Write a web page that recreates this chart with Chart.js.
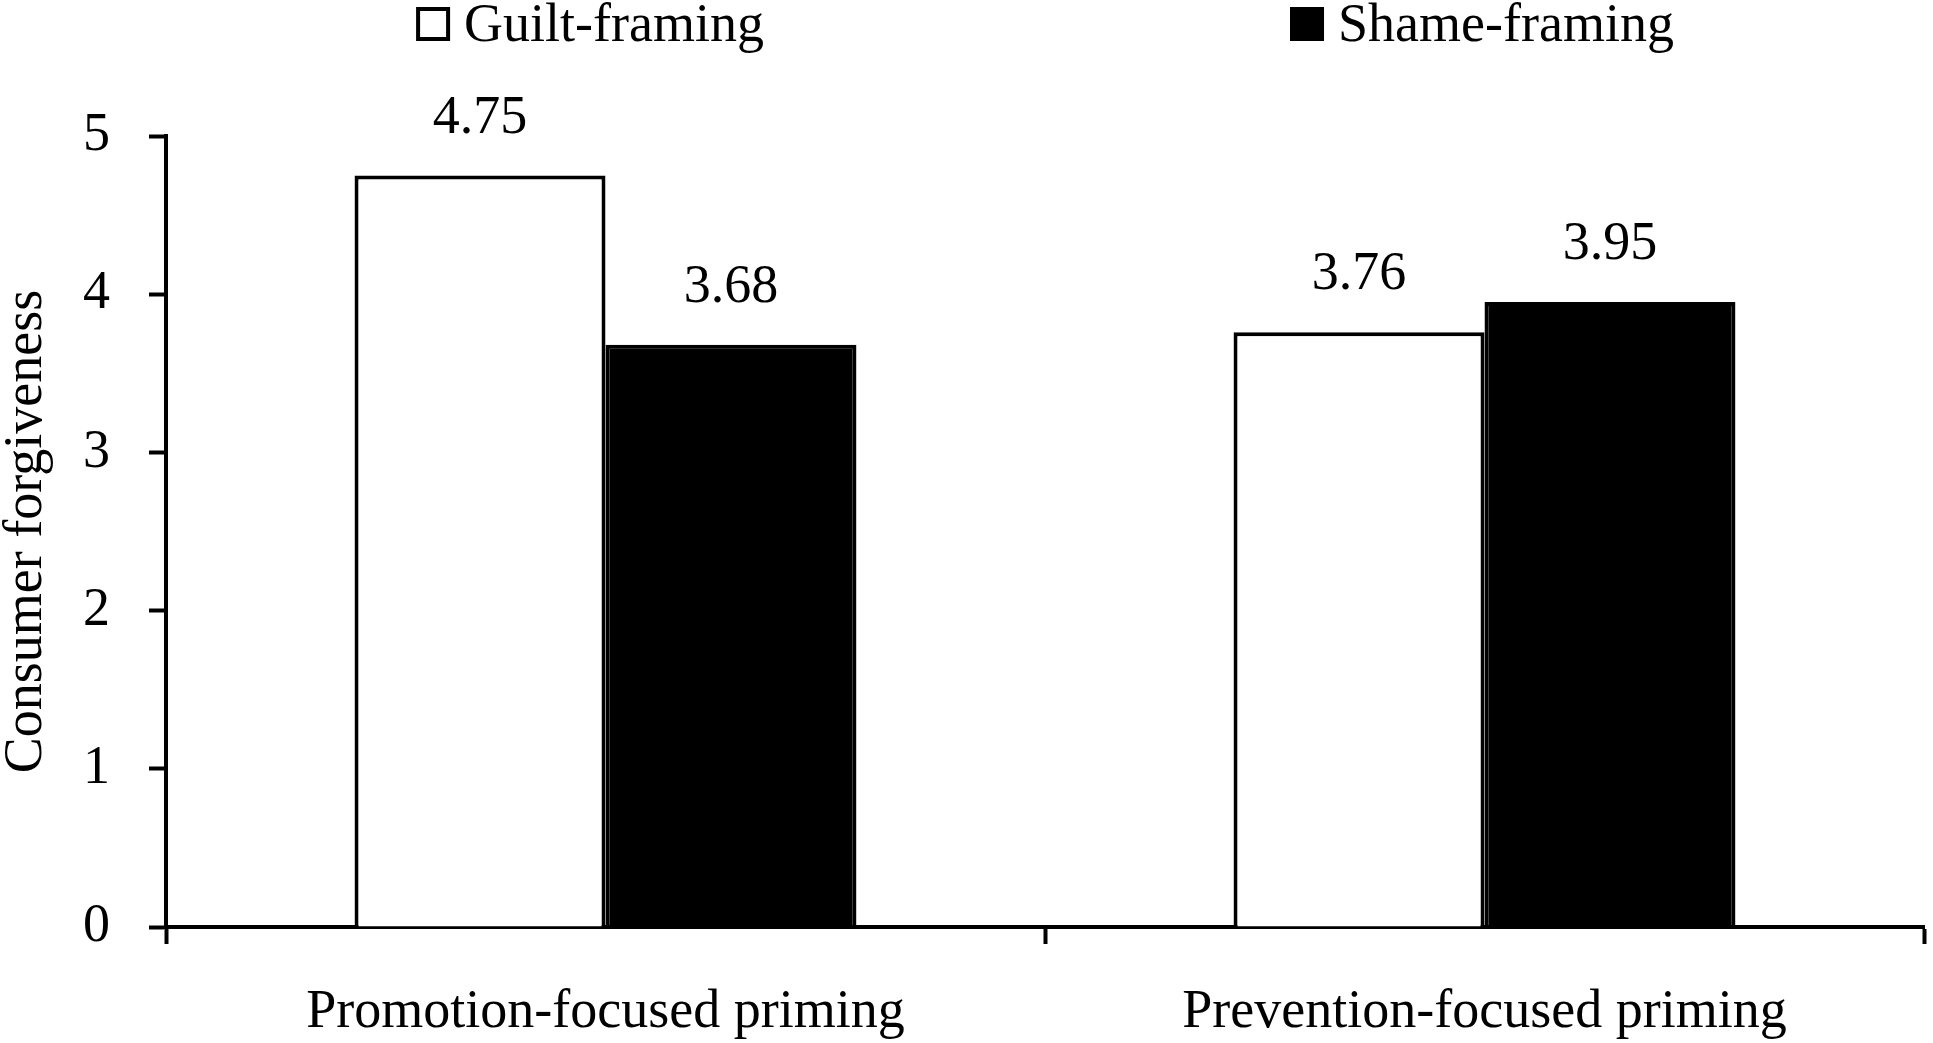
<!DOCTYPE html>
<html>
<head>
<meta charset="utf-8">
<script src="https://cdn.jsdelivr.net/npm/chart.js@4/dist/chart.umd.min.js"></script>
<style>
  html, body { margin: 0; padding: 0; background: #ffffff; }
  #wrap { width: 1933px; height: 1043px; }
</style>
</head>
<body>
<div id="wrap"><canvas id="c" width="1933" height="1043"></canvas></div>
<script>
// ---- data ----
const categories = ["Promotion-focused priming", "Prevention-focused priming"];
const seriesNames = ["Guilt-framing", "Shame-framing"];
const guiltValues = [4.75, 3.76];
const shameValues = [3.68, 3.95];
const yTicks = [0, 1, 2, 3, 4, 5];
const yTitle = "Consumer forgiveness";

// ---- styles ----
const FONT = '"Liberation Serif", "Times New Roman", serif';
const FS = 54;

const valueLabels = {
  id: 'valueLabels',
  afterDatasetsDraw(chart) {
    const ctx = chart.ctx;
    ctx.save();
    ctx.font = FS + 'px ' + FONT;
    ctx.fillStyle = '#000';
    ctx.textAlign = 'center';
    ctx.textBaseline = 'middle';
    chart.data.datasets.forEach((ds, di) => {
      const meta = chart.getDatasetMeta(di);
      meta.data.forEach((el, i) => {
        ctx.fillText(ds.data[i].toFixed(2), el.x, el.y - 57);
      });
    });
    ctx.restore();
  }
};

const topLegend = {
  id: 'topLegend',
  afterDraw(chart) {
    const ctx = chart.ctx;
    const ca = chart.chartArea;
    const box = 34, textGap = 14, itemGap = 526;
    ctx.save();
    ctx.font = FS + 'px ' + FONT;
    const items = chart.data.datasets.map(ds => ({
      label: ds.label, fill: ds.backgroundColor,
      w: box + textGap + ctx.measureText(ds.label).width
    }));
    const total = items.reduce((a, it) => a + it.w, 0) + itemGap * (items.length - 1);
    let x = (ca.left + ca.right) / 2 - total / 2;
    const yMid = 24;
    items.forEach(it => {
      ctx.fillStyle = it.fill;
      ctx.fillRect(x, yMid - box / 2, box, box);
      ctx.strokeStyle = '#000';
      ctx.lineWidth = 4;
      ctx.strokeRect(x + 2, yMid - box / 2 + 2, box - 4, box - 4);
      ctx.fillStyle = '#000';
      ctx.textAlign = 'left';
      ctx.textBaseline = 'middle';
      ctx.fillText(it.label, x + box + textGap, yMid + 3);
      x += it.w + itemGap;
    });
    ctx.restore();
  }
};

new Chart(document.getElementById('c'), {
  type: 'bar',
  data: {
    labels: categories,
    datasets: [
      {
        label: seriesNames[0],
        data: guiltValues,
        backgroundColor: '#ffffff',
        borderColor: '#000000',
        borderWidth: 4,
        borderSkipped: 'bottom'
      },
      {
        label: seriesNames[1],
        data: shameValues,
        backgroundColor: '#000000',
        borderColor: '#000000',
        borderWidth: 4,
        borderSkipped: 'bottom'
      }
    ]
  },
  options: {
    responsive: false,
    animation: false,
    devicePixelRatio: 1,
    layout: { padding: { top: 136, right: 9, bottom: 0, left: 0 } },
    datasets: { bar: { categoryPercentage: 0.571, barPercentage: 1.0 } },
    plugins: {
      legend: { display: false },
      tooltip: { enabled: false }
    },
    scales: {
      x: {
        type: 'category',
        offset: true,
        grid: {
          offset: true,
          drawOnChartArea: false,
          drawTicks: true,
          tickLength: 17,
          tickWidth: 4,
          tickColor: '#000'
        },
        border: { display: true, color: '#000', width: 4 },
        ticks: {
          color: '#000',
          font: { family: FONT, size: FS },
          padding: 36,
          maxRotation: 0
        },
        afterFit(s) { s.height = 116; }
      },
      y: {
        min: 0,
        max: 5,
        afterBuildTicks(s) { s.ticks = yTicks.map(v => ({ value: v })); },
        grid: {
          drawOnChartArea: false,
          drawTicks: true,
          tickLength: 17,
          tickWidth: 4,
          tickColor: '#000'
        },
        border: { display: true, color: '#000', width: 4 },
        ticks: {
          color: '#000',
          font: { family: FONT, size: FS },
          padding: 39,
          callback: v => String(v)
        },
        title: {
          display: true,
          text: yTitle,
          color: '#000',
          font: { family: FONT, size: FS, lineHeight: 1 },
          padding: 0
        },
        afterFit(s) { s.width = 166; }
      }
    }
  },
  plugins: [valueLabels, topLegend]
});
</script>
</body>
</html>
